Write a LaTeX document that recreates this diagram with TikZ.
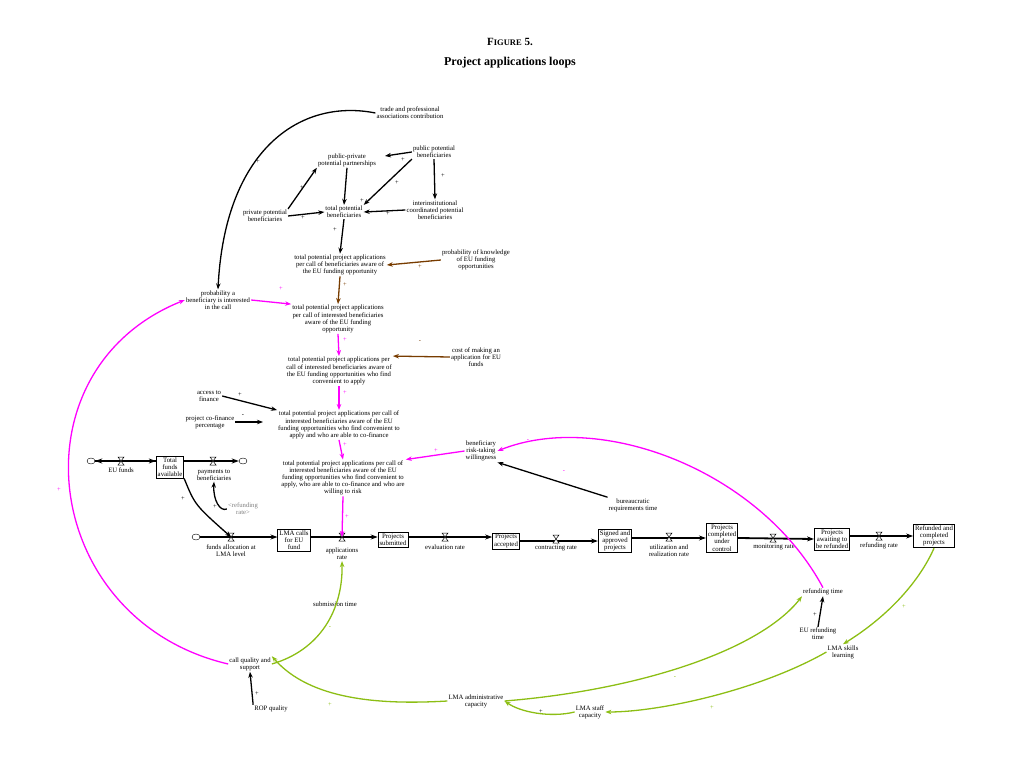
\documentclass[tikz,border=0pt]{standalone}
\usepackage{fontspec}
\setmainfont{Liberation Serif}
\usetikzlibrary{arrows.meta,shapes.geometric}
\definecolor{mag}{RGB}{255,0,255}
\definecolor{brn}{RGB}{120,60,0}
\definecolor{grn}{RGB}{140,190,20}
\begin{document}
\begin{tikzpicture}[x=1pt,y=-1pt,
 lbl/.style={align=center,font=\fontsize{6.7}{7.1}\selectfont,inner sep=1pt},
 stock/.style={draw,thick,align=center,font=\fontsize{6.8}{7.2}\selectfont,inner sep=1.5pt,fill=white},
 cld/.style={draw,ellipse,minimum width=8,minimum height=6,inner sep=0pt},
 ar/.style={-{Stealth[length=6pt,width=4.5pt]},line width=1.3pt},
 flow/.style={-{Stealth[length=7pt,width=5pt]},line width=1.8pt},
 pm/.style={font=\fontsize{6.5}{7}\selectfont,inner sep=0pt}]
\useasboundingbox (0,0) rectangle (1013,757);
\node[font=\bfseries] (t1) at (510,42) {\fontsize{11}{12}\selectfont F\fontsize{8.5}{12}\selectfont IGURE\fontsize{11}{12}\selectfont\ 5.};
\node[font=\fontsize{12}{14}\selectfont\bfseries] (t2) at (510,63) {Project applications loops};
% auxiliaries
\node[lbl] (trade) at (410,113) {trade and professional\\associations contribution};
\node[lbl] (ppp) at (347,160) {public-private\\potential partnerships};
\node[lbl] (pub) at (434,152) {public potential\\beneficiaries};
\node[lbl] (priv) at (265,216) {private potential\\beneficiaries};
\node[lbl] (tpb) at (344,212) {total potential\\beneficiaries};
\node[lbl] (inter) at (435,210) {interinstitutional\\coordinated potential\\beneficiaries};
\node[lbl] (tpa1) at (340,265) {total potential project applications\\per call of beneficiaries aware of\\the EU funding opportunity};
\node[lbl] (know) at (476,260) {probability of knowledge\\of EU funding\\opportunities};
\node[lbl] (prob) at (218,300) {probability a\\beneficiary is interested\\in the call};
\node[lbl] (tpa2) at (338,319) {total potential project applications\\per call of interested beneficiaries\\aware of the EU funding\\opportunity};
\node[lbl] (tpa3) at (339,371) {total potential project applications per\\call of interested beneficiaries aware of\\the EU funding opportunities who find\\convenient to apply};
\node[lbl] (cost) at (476,357) {cost of making an\\application for EU\\funds};
\node[lbl] (access) at (209,396) {access to\\finance};
\node[lbl] (cofin) at (210,422) {project co-finance\\percentage};
\node[lbl] (tpa4) at (339,425) {total potential project applications per call of\\interested beneficiaries aware of the EU\\funding opportunities who find convenient to\\apply and who are able to co-finance};
\node[lbl] (tpa5) at (343,478) {total potential project applications per call of\\interested beneficiaries aware of the EU\\funding opportunities who find convenient to\\apply, who are able to co-finance and who are\\willing to risk};
\node[lbl] (risk) at (481,451) {beneficiary\\risk-taking\\willingness};
\node[lbl] (bur) at (633,505) {bureaucratic\\requirements time};
% stock and flow chain
\node[cld] (c1) at (91,461) {};
\node[stock] (tfa) at (170,467) {Total\\funds\\available};
\node[cld] (c2) at (243,461) {};
\node[cld] (c3) at (196,537) {};
\node[stock] (lma) at (294,540) {LMA calls\\for EU\\fund};
\node[stock] (ps) at (393,540) {Projects\\submitted};
\node[stock] (pa) at (506,541) {Projects\\accepted};
\node[stock] (sap) at (615,541) {Signed and\\approved\\projects};
\node[stock] (pcu) at (722,538) {Projects\\completed\\under\\control};
\node[stock] (paw) at (832,539) {Projects\\awaiting to\\be refunded};
\node[stock] (rcp) at (934,536) {Refunded and\\completed\\projects};
\draw[flow] (tfa.west|-c1) -- (c1);
\draw[flow] (c1) -- (tfa.west|-c1);
\draw[flow] (tfa.east|-c2) -- (c2);
\draw[flow] (c3) -- (lma.west|-c3);
\draw[flow] (lma.east|-c3) -- (ps.west|-c3);
\draw[flow] (ps.east|-c3) -- (pa.west|-c3);
\draw[flow] (pa.east|-sap.west) -- (sap.west);
\draw[flow] (sap.east|-pcu.west) -- (pcu.west);
\draw[flow] (pcu.east) -- (paw.west);
\draw[flow] (paw.east|-rcp.west) -- (rcp.west);
\foreach \n/\x/\y in {v1/121/461,v2/213/461,v3/231/537,v4/342/537,v5/445/537,v6/556/539,v7/669/537,v8/773/538,v9/879/536}{
 \coordinate (\n) at (\x,\y);
 \draw[fill=white,line width=0.5pt] (\x-3,\y-4) -- (\x+3,\y-4) -- (\x-3,\y+4) -- (\x+3,\y+4) -- cycle;}
\node[lbl] (l1) at (121,470) {EU funds};
\node[lbl] (l2) at (214,475) {payments to\\beneficiaries};
\node[lbl,text=gray] (rr) at (243,509) {<refunding\\rate>};
\node[lbl] (l3) at (231,551) {funds allocation at\\LMA level};
\node[lbl] (apr) at (342,554) {applications\\rate};
\node[lbl] (l5) at (445,547) {evaluation rate};
\node[lbl] (l6) at (556,548) {contracting rate};
\node[lbl] (l7) at (669,551) {utilization and\\realization rate};
\node[lbl] (l8) at (774,547) {monitoring rate};
\node[lbl] (l9) at (879,546) {refunding rate};
\node[lbl] (rt) at (823,592) {refunding time};
\node[lbl] (eurt) at (818,634) {EU refunding\\time};
\node[lbl] (skills) at (843,652) {LMA skills\\learning};
\node[lbl] (staff) at (590,712) {LMA staff\\capacity};
\node[lbl] (admin) at (476,701) {LMA administrative\\capacity};
\node[lbl] (call) at (250,664) {call quality and\\support};
\node[lbl] (rop) at (271,709) {ROP quality};
\node[lbl] (sub) at (335,604) {submission time};
% black links
\draw[ar] (trade.west) .. controls (300,98) and (225,150) .. (prob.north);
\draw[ar] (pub.west) -- (385,156);
\draw[ar] (pub.south west) -- (tpb.north east);
\draw[ar] (pub.south) -- (inter.north);
\draw[ar] (priv.north east) -- (ppp.south west);
\draw[ar] (priv.east) -- (tpb.west);
\draw[ar] (ppp.south) -- (tpb.north);
\draw[ar] (inter.west) -- (tpb.east);
\draw[ar] (tpb.south) -- (tpa1.north);
\draw[ar] (access.east) -- (tpa4.north west);
\draw[ar] (cofin.east) -- (263,422);
\draw[ar] (bur.north west) -- (risk.south east);
\draw[ar] (tfa.south east) .. controls (195,505) .. (v3);
\draw[ar] (rr.west) .. controls (220,512) and (213,500) .. (l2.south);
\draw[ar] (rop.north west) -- (call.south);
\draw[ar] (eurt.north) -- (rt.south);
% brown
\draw[ar,brn] (know.west) -- (tpa1.east);
\draw[ar,brn] (tpa1.south) -- (tpa2.north);
\draw[ar,brn] (cost.west) -- (tpa3.north east);
% magenta
\draw[ar,mag] (prob.east) -- (tpa2.north west);
\draw[ar,mag] (tpa2.south) -- (tpa3.north);
\draw[ar,mag] (tpa3.south) -- (tpa4.north);
\draw[ar,mag] (tpa4.south) -- (tpa5.north);
\draw[ar,mag] (tpa5.south) -- (v4);
\draw[ar,mag] (risk.west) -- (tpa5.north east);
\draw[ar,mag] (rt.north) .. controls (760,470) and (600,410) .. (risk.east);
\draw[ar,mag] (call.west) .. controls (40,620) and (10,370) .. (prob.west);
% green
\draw[ar,grn] (call.east) .. controls (320,650) and (343,610) .. (apr.south);
\draw[ar,grn] (rcp.south) .. controls (920,580) and (890,615) .. (skills.north);
\draw[ar,grn] (skills.west) .. controls (760,690) and (660,712) .. (staff.east);
\draw[ar,grn] (staff.west) .. controls (550,718) and (520,712) .. (admin.east);
\draw[ar,grn] (admin.east) .. controls (640,690) and (760,650) .. (rt.south west);
\draw[ar,grn] (admin.west) .. controls (380,705) and (310,700) .. (call.north east);
% polarity
\foreach \x/\y/\s in {258/162/+,302/188/+,362/201/+,403/160/+,397/183/+,443/176/+,388/214/+,303/218/+,335/230/+,240/395/+,243/416/-,183/499/+,215/507/+}
 \node[pm] at (\x,\y) {\s};
\foreach \x/\y/\s in {420/267/+,345/285/+,420/342/-}
 \node[pm,text=brn] at (\x,\y) {\s};
\foreach \x/\y/\s in {281/289/+,345/340/+,345/393/+,345/445/+,347/517/+,436/451/+,528/441/-,564/472/-,59/490/+}
 \node[pm,text=mag] at (\x,\y) {\s};
\foreach \x/\y/\s in {330/628/-,904/607/+,712/708/+,675/678/-,330/705/+}
 \node[pm,text=grn] at (\x,\y) {\s};
\foreach \x/\y/\s in {541/712/+,815/615/+,257/694/+}
 \node[pm] at (\x,\y) {\s};
\end{tikzpicture}
\end{document}
